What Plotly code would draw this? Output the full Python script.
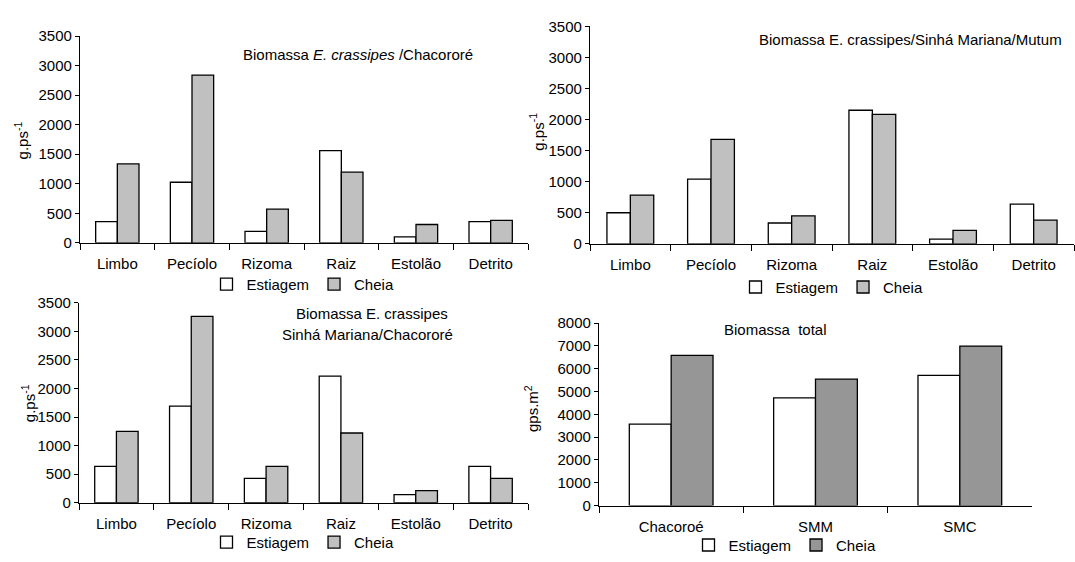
import plotly.graph_objects as go

# ---------------- data ----------------
partes = ["Limbo", "Pecíolo", "Rizoma", "Raiz", "Estolão", "Detrito"]
chac_estiagem = [360, 1025, 195, 1560, 100, 360]
chac_cheia = [1335, 2840, 570, 1195, 310, 380]
smm_estiagem = [500, 1040, 335, 2150, 75, 640]
smm_cheia = [785, 1680, 450, 2085, 215, 380]
smc_estiagem = [635, 1690, 425, 2215, 140, 635]
smc_cheia = [1250, 3260, 635, 1220, 210, 425]
locais = ["Chacoroé", "SMM", "SMC"]
total_estiagem = [3570, 4720, 5710]
total_cheia = [6580, 5545, 6990]
series_names = ["Estiagem", "Cheia"]

# ---------------- layout helpers ----------------
W, H = 1075, 562
FONT = "Liberation Sans, Arial, sans-serif"
FS = 15


def px(x):
    return x / W


def py(y):
    return 1 - y / H


fig = go.Figure()

panels = [
    ("x", "y", "legend", partes, chac_estiagem, chac_cheia, "#C0C0C0"),
    ("x2", "y2", "legend2", partes, smm_estiagem, smm_cheia, "#C0C0C0"),
    ("x3", "y3", "legend3", partes, smc_estiagem, smc_cheia, "#C0C0C0"),
    ("x4", "y4", "legend4", locais, total_estiagem, total_cheia, "#969696"),
]

for xa, ya, lg, cats, est, ch, col in panels:
    fig.add_trace(go.Bar(x=cats, y=est, name=series_names[0], xaxis=xa, yaxis=ya,
                         legend=lg, marker=dict(color="white", line=dict(color="black", width=1.3)),
                         offsetgroup="a"))
    fig.add_trace(go.Bar(x=cats, y=ch, name=series_names[1], xaxis=xa, yaxis=ya,
                         legend=lg, marker=dict(color=col, line=dict(color="black", width=1.3)),
                         offsetgroup="b"))

boxes = {
    1: (80, 528, 28, 242, 3500, 500),
    2: (590, 1074, 18, 243, 3500, 500),
    3: (79, 528, 304, 511, 3500, 500),
    4: (599, 1032, 325, 514, 8000, 1000),
}

layout = dict(
    width=W, height=H,
    margin=dict(l=0, r=0, t=0, b=0),
    paper_bgcolor="white", plot_bgcolor="white",
    barmode="group", bargap=0.42, bargroupgap=0,
    font=dict(family=FONT, size=FS, color="black"),
)

for i, (x0, x1, y0, y1, ymax, dt) in boxes.items():
    sx = "" if i == 1 else str(i)
    layout["xaxis" + sx] = dict(
        domain=[px(x0), px(x1)], anchor="y" + sx,
        showline=True, linecolor="black", linewidth=1.3,
        ticks="outside", tickson="boundaries", ticklen=6, tickwidth=1.3, tickcolor="black",
        ticklabelstandoff=7, showgrid=False, zeroline=False,
        tickfont=dict(family=FONT, size=FS, color="black"),
    )
    layout["yaxis" + sx] = dict(
        domain=[py(y1), py(y0)], anchor="x" + sx,
        range=[0, ymax], dtick=dt, tick0=0,
        showline=True, linecolor="black", linewidth=1.3,
        ticks="outside", ticklen=4, tickwidth=1.3, tickcolor="black",
        showgrid=False, zeroline=False,
        tickfont=dict(family=FONT, size=FS, color="black"),
    )

legend_pos = {
    "legend": (303, 285),
    "legend2": (832, 288),
    "legend3": (303, 552),
    "legend4": (785, 555),
}
for k, (lx, ly) in legend_pos.items():
    layout[k] = dict(
        orientation="h", x=px(lx), y=py(ly), xanchor="center", yanchor="middle",
        bgcolor="rgba(0,0,0,0)", font=dict(family=FONT, size=FS, color="black"),
        itemwidth=30, tracegroupgap=0, traceorder="normal",
    )

fig.update_layout(**layout)

annos = [
    ("Biomassa <i>E. crassipes</i> /Chacororé", 358, 47, 0),
    ("Biomassa E. crassipes/Sinhá Mariana/Mutum", 910, 32, 0),
    ("Biomassa E. crassipes", 372, 315, 0),
    ("Sinhá Mariana/Chacororé", 367, 337, 0),
    ("Biomassa\u00a0 total", 775, 332, 0),
    ("g.ps<sup>-1</sup>", 21, 136, -90),
    ("g.ps<sup>-1</sup>", 537, 127, -90),
    ("g.ps<sup>-1</sup>", 28, 408, -90),
    ("gps.m<sup>2</sup>", 531, 414, -90),
]
for txt, ax_, ay_, ang in annos:
    fig.add_annotation(text=txt, x=px(ax_), y=py(ay_), xref="paper", yref="paper",
                       xanchor="center", yanchor="middle", showarrow=False,
                       textangle=ang, font=dict(family=FONT, size=FS, color="black"))

fig.write_html(
    "out.html",
    config={"displayModeBar": False},
    post_script="document.body.style.margin='0';document.body.style.overflow='hidden';",
)
